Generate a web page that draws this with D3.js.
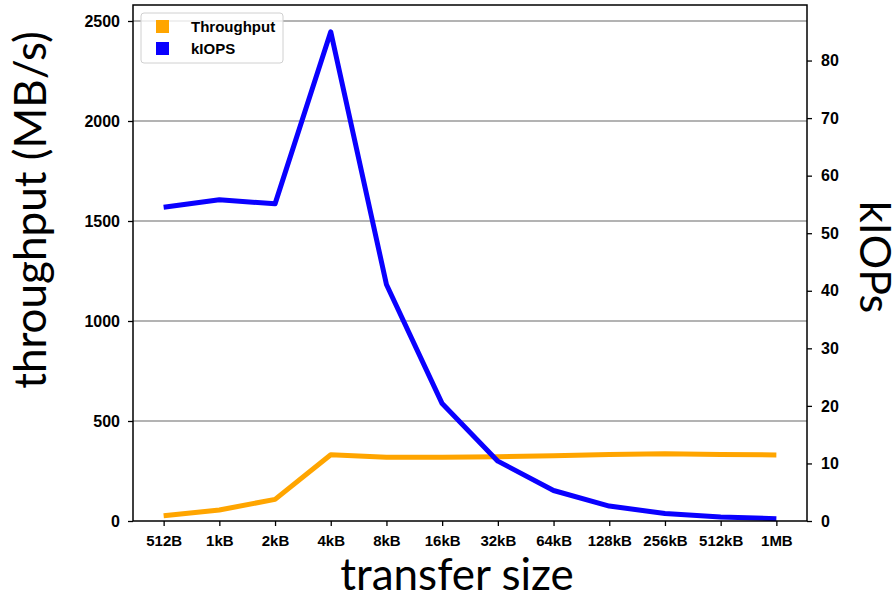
<!DOCTYPE html>
<html>
<head>
<meta charset="utf-8">
<script src="https://cdn.jsdelivr.net/npm/d3@7"></script>
<style>
  body { margin: 0; background: #fff; }
  svg { display: block; }
</style>
</head>
<body>
<svg id="chart" width="895" height="597"></svg>
<script>
// values
var sizes = ["512B", "1kB", "2kB", "4kB", "8kB", "16kB", "32kB", "64kB", "128kB", "256kB", "512kB", "1MB"]
var throughput = [26, 55, 108, 331, 319, 319, 321, 326, 332, 336, 333, 330]
var kiops = [54.5, 55.8, 55.1, 85.0, 41.1, 20.4, 10.4, 5.3, 2.6, 1.3, 0.7, 0.4]
var leftTicks = [0, 500, 1000, 1500, 2000, 2500]
var rightTicks = [0, 10, 20, 30, 40, 50, 60, 70, 80]

var dimensions = {
  width: 895,
  height: 597,
  margin: { top: 5, bottom: 76, left: 133, right: 88 }
}
var plotLeft = dimensions.margin.left
var plotRight = dimensions.width - dimensions.margin.right
var plotTop = dimensions.margin.top
var plotBottom = dimensions.height - dimensions.margin.bottom

var svg = d3.select("#chart")

// matplotlib-like 5% margin on the category index
var xScale = d3.scaleLinear()
  .domain([-0.55, sizes.length - 1 + 0.55])
  .range([plotLeft, plotRight])

var yLeft = d3.scaleLinear()
  .domain([0, 2580])
  .range([plotBottom, plotTop])

var yRight = d3.scaleLinear()
  .domain([0, 89.65])
  .range([plotBottom, plotTop])

// grid lines on left ticks
svg.append("g")
  .selectAll("line")
  .data(leftTicks.filter(d => d > 0))
  .enter()
  .append("line")
  .attr("x1", plotLeft)
  .attr("x2", plotRight)
  .attr("y1", d => yLeft(d))
  .attr("y2", d => yLeft(d))
  .attr("stroke", "#9a9a9a")
  .attr("stroke-width", 1.3)

var line = function(scale) {
  return d3.line()
    .x((d, i) => xScale(i))
    .y(d => scale(d))
}

svg.append("path")
  .datum(throughput)
  .attr("d", line(yLeft))
  .attr("fill", "none")
  .attr("stroke", "#ffa500")
  .attr("stroke-width", 5)
  .attr("stroke-linejoin", "round")

svg.append("path")
  .datum(kiops)
  .attr("d", line(yRight))
  .attr("fill", "none")
  .attr("stroke", "#0a00ff")
  .attr("stroke-width", 5)
  .attr("stroke-linejoin", "round")

// frame
svg.append("rect")
  .attr("x", plotLeft)
  .attr("y", plotTop)
  .attr("width", plotRight - plotLeft)
  .attr("height", plotBottom - plotTop)
  .attr("fill", "none")
  .attr("stroke", "#000")
  .attr("stroke-width", 1.5)

var tickFont = "'Liberation Sans', Arial, sans-serif"

var xAxisgen = d3.axisBottom(xScale)
  .tickValues(d3.range(sizes.length))
  .tickFormat(i => sizes[i])
  .tickSize(5)
  .tickPadding(9)

var yAxisgen = d3.axisLeft(yLeft)
  .tickValues(leftTicks)
  .tickFormat(d3.format("d"))
  .tickSize(5)
  .tickPadding(8)

var y2Axisgen = d3.axisRight(yRight)
  .tickValues(rightTicks)
  .tickFormat(d3.format("d"))
  .tickSize(5)
  .tickPadding(9)

var xAxis = svg.append("g")
  .attr("transform", `translate(0,${plotBottom})`)
  .call(xAxisgen)
var yAxis = svg.append("g")
  .attr("transform", `translate(${plotLeft},0)`)
  .call(yAxisgen)
var y2Axis = svg.append("g")
  .attr("transform", `translate(${plotRight},0)`)
  .call(y2Axisgen)

;[xAxis, yAxis, y2Axis].forEach(function(g) {
  g.select(".domain").remove()
  g.selectAll(".tick line").attr("stroke", "#000").attr("stroke-width", 1.3)
  g.selectAll("text")
    .attr("fill", "#000")
    .style("font-family", tickFont)
    .style("font-weight", "bold")
    .style("font-size", "15px")
})
y2Axis.selectAll("text").style("font-size", "16px")
yAxis.selectAll("text").style("font-size", "16px")

// axis titles
var titleFont = "Lato, 'Open Sans', sans-serif"
svg.append("text")
  .attr("x", 457)
  .attr("y", 590)
  .attr("text-anchor", "middle")
  .style("font-family", titleFont)
  .style("font-size", "44px")
  .text("transfer size")

svg.append("text")
  .attr("transform", "translate(46,210) rotate(-90)")
  .attr("text-anchor", "middle")
  .style("font-family", titleFont)
  .style("font-size", "44px")
  .text("throughput (MB/s)")

svg.append("text")
  .attr("transform", "translate(860,257) rotate(90)")
  .attr("text-anchor", "middle")
  .style("font-family", titleFont)
  .style("font-size", "43px")
  .text("kIOPs")

// legend
var legendItems = [
  { name: "Throughput", color: "#ffa500" },
  { name: "kIOPS", color: "#0a00ff" }
]
var legend = svg.append("g").attr("transform", "translate(141,13)")
legend.append("rect")
  .attr("width", 142)
  .attr("height", 50)
  .attr("rx", 3)
  .attr("fill", "#fff")
  .attr("fill-opacity", 0.8)
  .attr("stroke", "#d0d0d0")
  .attr("stroke-width", 1)

var rows = legend.selectAll(".row")
  .data(legendItems)
  .enter()
  .append("g")
  .attr("transform", (d, i) => `translate(0,${13 + i * 22})`)
rows.append("rect")
  .attr("x", 15)
  .attr("y", -6)
  .attr("width", 13)
  .attr("height", 13)
  .attr("fill", d => d.color)
rows.append("text")
  .attr("x", 50)
  .attr("y", 5.5)
  .style("font-family", tickFont)
  .style("font-weight", "bold")
  .style("font-size", "15px")
  .text(d => d.name)
</script>
</body>
</html>
